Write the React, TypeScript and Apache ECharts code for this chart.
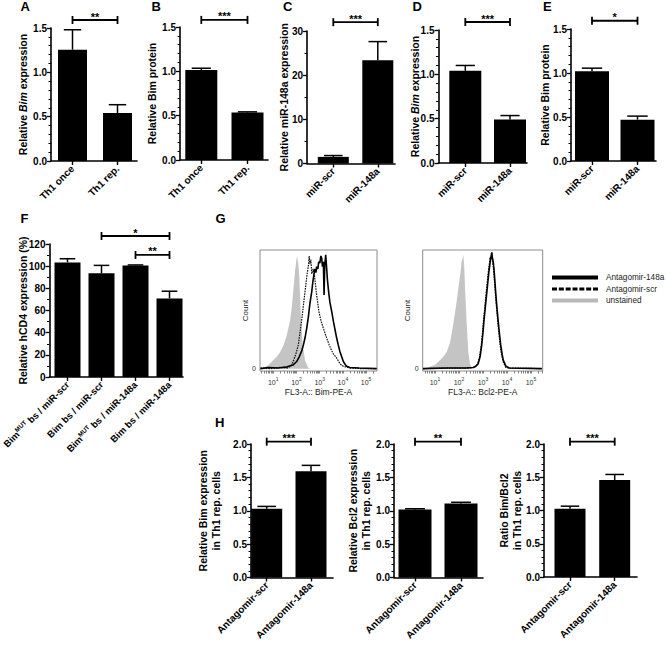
import React, { useEffect, useRef } from "react";
import * as echarts from "echarts";

const FONT = '"Liberation Sans", Arial, Helvetica, sans-serif';

// ---------- data ----------
const catsTh1 = ["Th1 once", "Th1 rep."];
const valsA = [1.255, 0.54];
const errA = [0.225, 0.095];
const valsB = [1.015, 0.535];
const errB = [0.02, 0.008];

const catsMiR = ["miR-scr", "miR-148a"];
const valsC = [1.5, 23.35];
const errC = [0.3, 4.25];
const valsD = [1.04, 0.49];
const errD = [0.06, 0.045];
const valsE = [1.02, 0.47];
const errE = [0.035, 0.04];

const catsF = [
  "Bim{sup|MUT} bs / miR-scr",
  "Bim bs / miR-scr",
  "Bim{sup|MUT} bs / miR-148a",
  "Bim bs / miR-148a",
];
const valsF = [103.4, 93.5, 100.7, 70.9];
const errF = [3.3, 7.2, 0.4, 6.5];

const catsH = ["Antagomir-scr", "Antagomir-148a"];
const valsH1 = [1.03, 1.59];
const errH1 = [0.035, 0.09];
const valsH2 = [1.018, 1.107];
const errH2 = [0.012, 0.02];
const valsH3 = [1.025, 1.457];
const errH3 = [0.04, 0.085];

const sigA = [{ from: 0, to: 1, level: 1.59, label: "**" }];
const sigB = [{ from: 0, to: 1, level: 1.58, label: "***" }];
const sigC = [{ from: 0, to: 1, level: 32.0, label: "***" }];
const sigD = [{ from: 0, to: 1, level: 1.59, label: "***" }];
const sigE = [{ from: 0, to: 1, level: 1.594, label: "*" }];
const sigF = [
  { from: 1, to: 3, level: 127.2, label: "*" },
  { from: 2, to: 3, level: 110.1, label: "**" },
];
const sigH1 = [{ from: 0, to: 1, level: 2.035, label: "***" }];
const sigH2 = [{ from: 0, to: 1, level: 2.035, label: "**" }];
const sigH3 = [{ from: 0, to: 1, level: 2.035, label: "***" }];

// flow histograms: [log10 fluorescence, relative count]
const hist1Unstained = [[0.45,0],[0.6,1],[0.8,3],[1.0,7],[1.15,10],[1.3,14],[1.45,20],[1.58,28],[1.72,40],[1.8,52],[1.86,65],[1.94,82],[2.0,92],[2.03,95],[2.08,88],[2.12,79],[2.18,48],[2.27,20],[2.37,7],[2.5,1],[2.6,0]];
const hist1Scr = [[0.45,0.5],[0.9,0],[1.3,1],[1.6,0.5],[1.75,2],[1.86,6],[1.97,12],[2.08,20],[2.22,40],[2.37,65],[2.46,80],[2.51,86],[2.55,95],[2.58,88],[2.62,92],[2.66,80],[2.72,84],[2.78,78],[2.87,62],[2.97,48],[3.06,40],[3.16,34],[3.28,27],[3.41,20],[3.57,13],[3.73,9],[3.88,4],[4.02,2],[4.3,0.5],[4.8,0],[5.45,0]];
const hist1Anti = [[0.45,0],[0.8,1],[1.2,0.5],[1.6,1.5],[1.85,3],[2.01,6],[2.12,10],[2.22,14.5],[2.3,20],[2.37,26],[2.45,35],[2.51,43],[2.58,55],[2.66,65],[2.7,72],[2.75,79],[2.8,84],[2.84,81],[2.87,86],[2.92,84],[2.96,90],[3.01,89],[3.05,95],[3.09,93],[3.12,86],[3.16,90],[3.19,62],[3.22,87],[3.26,96],[3.3,85],[3.33,76],[3.38,66],[3.44,56],[3.52,48],[3.59,40],[3.66,33],[3.73,26],[3.8,20],[3.87,14.5],[3.95,10],[4.02,6],[4.1,3.5],[4.16,2],[4.3,1],[4.7,0.5],[5.45,0]];
const hist2Unstained = [[0.5,0],[0.7,1],[1.0,3],[1.21,7],[1.35,10],[1.49,14],[1.63,22],[1.76,37],[1.9,56],[2.01,73],[2.06,80],[2.11,90],[2.15,93],[2.18,96],[2.22,86],[2.25,70],[2.32,39],[2.39,14],[2.46,4],[2.55,0]];
const hist2Anti = [[0.5,0],[1.5,0.5],[2.3,0.5],[2.6,1],[2.7,2],[2.8,4],[2.88,10],[2.95,20],[3.0,30],[3.05,42],[3.1,52],[3.15,62],[3.2,72],[3.25,82],[3.29,88],[3.32,93],[3.35,95],[3.37,98],[3.39,94],[3.41,92],[3.44,88],[3.46,84],[3.5,73],[3.54,62],[3.59,50],[3.64,39],[3.69,29],[3.74,20],[3.8,12],[3.85,7],[3.96,2],[4.1,0.5],[5.45,0]];
const hist2Scr = [[0.5,0],[1.5,0.5],[2.3,0.5],[2.6,1],[2.7,2],[2.78,4],[2.86,10],[2.93,20],[2.98,30],[3.03,42],[3.08,52],[3.13,63],[3.18,73],[3.23,83],[3.27,89],[3.3,94],[3.33,92],[3.35,97],[3.38,93],[3.4,90],[3.43,86],[3.45,82],[3.49,71],[3.53,60],[3.58,48],[3.63,37],[3.68,27],[3.73,18],[3.78,11],[3.84,6],[3.95,1],[4.1,0.5],[5.45,0]];
const histDecades = [1, 2, 3, 4, 5];
const seriesNames = ["Antagomir-148a", "Antagomir-scr", "unstained"];

// ---------- layout ----------
const barPanels = [
  { cats: catsTh1, vals: valsA, errs: errA, sig: sigA, max: 1.5, interval: 0.5, minor: 5, dec: 1, catFont: 10,
    name: "Relative {i|Bim} expression", left: 51, top: 28, height: 133, right: 137, first: 72.5, band: 45, barW: 29, nameX: 22.5 },
  { cats: catsTh1, vals: valsB, errs: errB, sig: sigB, max: 1.5, interval: 0.5, minor: 5, dec: 1, catFont: 10,
    name: "Relative Bim protein", left: 180, top: 27, height: 133, right: 268, first: 201.3, band: 46.2, barW: 32, nameX: 152 },
  { cats: catsMiR, vals: valsC, errs: errC, sig: sigC, max: 30, interval: 10, minor: 2, dec: 0, catFont: 10,
    name: "Relative miR-148a expression", left: 307, top: 31, height: 132.5, right: 395, first: 333.3, band: 44.5, barW: 31, nameX: 284 },
  { cats: catsMiR, vals: valsD, errs: errD, sig: sigD, max: 1.5, interval: 0.5, minor: 5, dec: 1, catFont: 10,
    name: "Relative {i|Bim} expression", left: 438.5, top: 30, height: 133, right: 527, first: 465.3, band: 44.7, barW: 32, nameX: 415 },
  { cats: catsMiR, vals: valsE, errs: errE, sig: sigE, max: 1.5, interval: 0.5, minor: 5, dec: 1, catFont: 10,
    name: "Relative Bim protein", left: 571, top: 29, height: 132, right: 656, first: 592, band: 45.5, barW: 34, nameX: 545 },
  { cats: catsF, vals: valsF, errs: errF, sig: sigF, max: 120, interval: 20, minor: 2, dec: 0, catFont: 9.5,
    name: "Relative hCD4 expression (%)", left: 49.5, top: 244, height: 133, right: 183, first: 67.5, band: 34, barW: 26, nameX: 23 },
  { cats: catsH, vals: valsH1, errs: errH1, sig: sigH1, max: 2, interval: 0.5, minor: 5, dec: 1, catFont: 10,
    name: "Relative Bim expression\nin Th1 rep. cells", left: 251, top: 444, height: 133.5, right: 333, first: 266.7, band: 44.3, barW: 31, nameX: 209.5 },
  { cats: catsH, vals: valsH2, errs: errH2, sig: sigH2, max: 2, interval: 0.5, minor: 5, dec: 1, catFont: 10,
    name: "Relative Bcl2 expression\nin Th1 rep. cells", left: 394, top: 444, height: 133.5, right: 483, first: 415, band: 46, barW: 33, nameX: 359 },
  { cats: catsH, vals: valsH3, errs: errH3, sig: sigH3, max: 2, interval: 0.5, minor: 5, dec: 1, catFont: 10,
    name: "Ratio Bim/Bcl2\nin Th1 rep. cells", left: 544, top: 444, height: 133, right: 637, first: 570, band: 44.7, barW: 31, nameX: 510 },
];

const histPanels = [
  { left: 260, top: 250, width: 117, height: 121, min: 0.43, max: 5.47, xName: "FL3-A:: Bim-PE-A",
    unstained: hist1Unstained, scr: hist1Scr, anti: hist1Anti },
  { left: 422.7, top: 250, width: 120, height: 121, min: 0.49, max: 5.49, xName: "FL3-A:: Bcl2-PE-A",
    unstained: hist2Unstained, scr: hist2Scr, anti: hist2Anti },
];

const letters = [
  { t: "A", x: 20.5, y: 0 }, { t: "B", x: 151.5, y: 0 }, { t: "C", x: 283, y: 0 },
  { t: "D", x: 412.5, y: 0 }, { t: "E", x: 543, y: 0 }, { t: "F", x: 20.5, y: 212 },
  { t: "G", x: 215.5, y: 212 }, { t: "H", x: 215, y: 416 },
];

const DASH_ICON =
  "path://M0,0h5v3h-5z M6.83,0h5v3h-5z M13.66,0h5v3h-5z M20.5,0h5v3h-5z M27.33,0h5v3h-5z M34.16,0h5v3h-5z M41,0h5v3h-5z";

function buildOption() {
  const grid: any[] = [];
  const xAxis: any[] = [];
  const yAxis: any[] = [];
  const series: any[] = [];
  const graphic: any[] = [];
  const black = "#000";

  barPanels.forEach((p, k) => {
    const idx = p.vals.map((_, i) => i);
    grid.push({ left: p.left, top: p.top, width: p.right - p.left, height: p.height, outerBoundsMode: "none", containLabel: false });
    xAxis.push({
      gridIndex: k, type: "value",
      min: -(p.first - p.left) / p.band, max: (p.right - p.first) / p.band,
      splitLine: { show: false },
      axisLine: { show: true, onZero: false, lineStyle: { color: black, width: 1.6 } },
      axisTick: { show: true, customValues: idx, length: 4, lineStyle: { color: black, width: 1.4 } },
      axisLabel: {
        customValues: idx, rotate: 45, margin: 6, color: black, fontSize: p.catFont, fontWeight: "bold", fontFamily: FONT,
        formatter: (v: number) => p.cats[Math.round(v)],
        rich: {
          sup: { fontSize: 6.2, fontWeight: "bold", fontFamily: FONT, color: black, verticalAlign: "top", lineHeight: 12 },
        },
      },
    });
    yAxis.push({
      gridIndex: k, type: "value", min: 0, max: p.max, interval: p.interval,
      splitLine: { show: false }, minorSplitLine: { show: false },
      axisLine: { show: true, onZero: false, lineStyle: { color: black, width: 1.6 } },
      axisTick: { show: true, length: 4, lineStyle: { color: black, width: 1.3 } },
      minorTick: { show: true, splitNumber: p.minor, length: 2.5, lineStyle: { color: black, width: 1 } },
      axisLabel: { margin: 4, color: black, fontSize: 10, fontWeight: "bold", fontFamily: FONT,
        formatter: (v: number) => v.toFixed(p.dec) },
    });
    // y-axis title (rotated)
    graphic.push({
      type: "text", x: p.nameX, y: p.top + p.height / 2, rotation: Math.PI / 2, silent: true,
      style: {
        text: p.name, align: "center", verticalAlign: "middle", fill: black,
        fontSize: 10.5, fontWeight: "bold", fontFamily: FONT, lineHeight: 13,
        rich: { i: { fontStyle: "italic", fontWeight: "bold", fontSize: 10.5, fontFamily: FONT, fill: black, color: black } },
      },
    });
    series.push({
      type: "bar", xAxisIndex: k, yAxisIndex: k, barWidth: p.barW, silent: true,
      itemStyle: { color: black }, data: p.vals.map((v, i) => [i, v]),
    });
    const capHalf = p.barW * 0.3;
    series.push({
      type: "custom", xAxisIndex: k, yAxisIndex: k, silent: true, z: 5,
      data: p.vals.map((v, i) => [i, v, v + p.errs[i]]),
      renderItem: (params: any, api: any) => {
        const x = api.value(0);
        const top = api.coord([x, api.value(2)]);
        const base = api.coord([x, api.value(1)]);
        return {
          type: "group",
          children: [
            { type: "line", shape: { x1: top[0], y1: base[1], x2: top[0], y2: top[1] }, style: { stroke: black, lineWidth: 1.5 } },
            { type: "line", shape: { x1: top[0] - capHalf, y1: top[1], x2: top[0] + capHalf, y2: top[1] }, style: { stroke: black, lineWidth: 1.5 } },
          ],
        };
      },
    });
    series.push({
      type: "custom", xAxisIndex: k, yAxisIndex: k, silent: true, z: 5, clip: false,
      data: p.sig.map((s) => [s.from, s.to, s.level]),
      renderItem: (params: any, api: any) => {
        const a = api.coord([api.value(0), api.value(2)]);
        const b = api.coord([api.value(1), api.value(2)]);
        const lbl = p.sig[params.dataIndex].label;
        const st = { stroke: black, lineWidth: 1.8 };
        return {
          type: "group",
          children: [
            { type: "line", shape: { x1: a[0], y1: a[1], x2: b[0], y2: b[1] }, style: st },
            { type: "line", shape: { x1: a[0], y1: a[1] - 4, x2: a[0], y2: a[1] + 4 }, style: st },
            { type: "line", shape: { x1: b[0], y1: b[1] - 4, x2: b[0], y2: b[1] + 4 }, style: st },
            { type: "text", style: { text: lbl, x: (a[0] + b[0]) / 2, y: a[1] + 2, align: "center", verticalAlign: "bottom",
              fill: black, fontSize: 11, fontWeight: "bold", fontFamily: FONT } },
          ],
        };
      },
    });
  });

  const minorLog: number[] = [];
  for (let k = 0; k <= 5; k++) for (let m = 1; m <= 9; m++) minorLog.push(k + Math.log10(m));

  histPanels.forEach((h, j) => {
    const k = barPanels.length + j;
    grid.push({ left: h.left, top: h.top, width: h.width, height: h.height, show: true, borderColor: "#8c8c8c", borderWidth: 1,
      outerBoundsMode: "none", containLabel: false });
    xAxis.push({
      gridIndex: k, type: "value", min: h.min, max: h.max,
      splitLine: { show: false },
      axisLine: { show: false, onZero: false },
      axisTick: { show: true, customValues: minorLog.filter((v) => v > h.min && v < h.max), length: 2.5, lineStyle: { color: "#666", width: 0.8 } },
      axisLabel: {
        customValues: histDecades, margin: 5, color: "#333",
        formatter: (v: number) => `{b|10}{s|${Math.round(v)}}`,
        rich: {
          b: { fontSize: 7, fontFamily: FONT, color: "#333", verticalAlign: "bottom", lineHeight: 10 },
          s: { fontSize: 5, fontFamily: FONT, color: "#333", verticalAlign: "top", lineHeight: 10 },
        },
      },
      name: h.xName, nameLocation: "middle", nameGap: 16, nameMoveOverlap: false,
      nameTextStyle: { fontSize: 8.5, fontFamily: FONT, color: "#222" },
    });
    yAxis.push({
      gridIndex: k, type: "value", min: -2, max: 100,
      splitLine: { show: false },
      axisLine: { show: false, onZero: false }, axisTick: { show: false },
      axisLabel: { customValues: [0], margin: 4, fontSize: 7, fontFamily: FONT, color: "#333" },
      name: "Count", nameLocation: "middle", nameGap: 11, nameMoveOverlap: false,
      nameTextStyle: { fontSize: 8, fontFamily: FONT, color: "#222" },
    });
    series.push({
      name: seriesNames[2], type: "line", xAxisIndex: k, yAxisIndex: k, symbol: "none", silent: true, z: 1,
      data: h.unstained, lineStyle: { width: 0, color: "#c4c4c4" }, itemStyle: { color: "#c4c4c4" },
      areaStyle: { color: "#c4c4c4", opacity: 1 },
    });
    series.push({
      name: seriesNames[1], type: "line", xAxisIndex: k, yAxisIndex: k, symbol: "none", silent: true, z: 3,
      data: h.scr, lineStyle: { width: 1.2, color: "#111", type: [1.6, 1] }, itemStyle: { color: "#000" },
    });
    series.push({
      name: seriesNames[0], type: "line", xAxisIndex: k, yAxisIndex: k, symbol: "none", silent: true, z: 4,
      data: h.anti, lineStyle: { width: 1.6, color: "#000" }, itemStyle: { color: "#000" },
    });
  });

  return {
    animation: false,
    backgroundColor: "#fff",
    textStyle: { fontFamily: FONT },
    title: letters.map((l) => ({
      text: l.t, left: l.x, top: l.y, padding: 0,
      textStyle: { fontSize: 13, fontWeight: "bold", fontFamily: FONT, color: "#000" },
    })),
    legend: {
      orient: "vertical", left: 552, top: 273.5, padding: 0, itemGap: 3.5, itemWidth: 46, itemHeight: 4,
      selectedMode: false,
      textStyle: { fontSize: 8.2, fontFamily: FONT, color: "#222", padding: [0, 0, 0, 3] },
      data: [
        { name: seriesNames[0], icon: "rect", itemStyle: { color: "#000" } },
        { name: seriesNames[1], icon: DASH_ICON, itemStyle: { color: "#000" } },
        { name: seriesNames[2], icon: "rect", itemStyle: { color: "#b8b8b8" } },
      ],
    },
    graphic,
    grid, xAxis, yAxis, series,
  };
}

export default function App() {
  const ref = useRef<HTMLDivElement>(null);
  useEffect(() => {
    if (!ref.current) return;
    const chart = echarts.init(ref.current, undefined, { renderer: "svg" });
    chart.setOption(buildOption() as any);
    return () => chart.dispose();
  }, []);
  return (
    <div
      ref={ref}
      style={{ position: "fixed", left: 0, top: 0, width: 666, height: 645, background: "#fff" }}
    />
  );
}
